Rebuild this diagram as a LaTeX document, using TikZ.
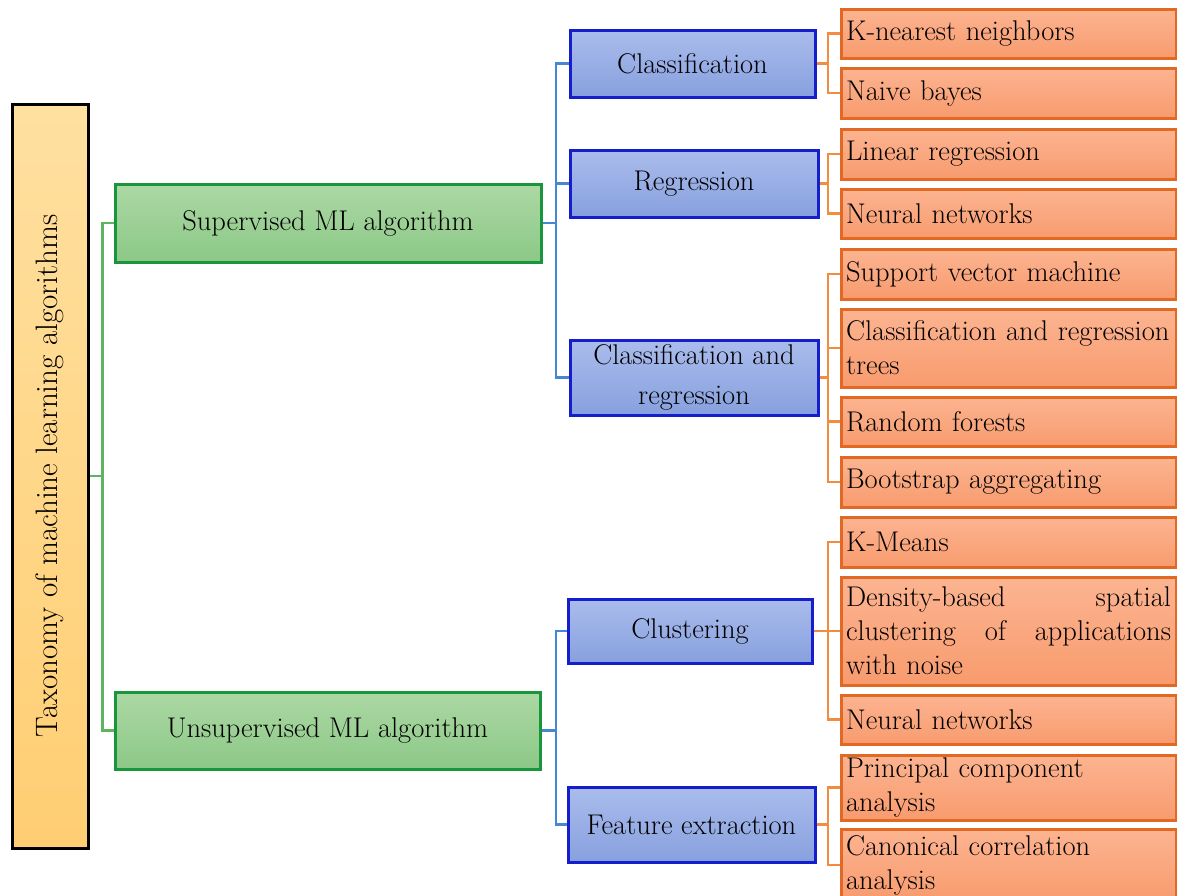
\documentclass[tikz,border=0pt]{standalone}
\usepackage{tikz}
\usetikzlibrary{positioning}
\usepackage{xcolor}
\definecolor{rootT}{RGB}{255,224,160}
\definecolor{rootB}{RGB}{255,206,115}
\definecolor{grT}{RGB}{172,216,164}
\definecolor{grB}{RGB}{140,200,135}
\definecolor{grD}{RGB}{25,150,60}
\definecolor{grL}{RGB}{95,180,95}
\definecolor{blT}{RGB}{170,188,236}
\definecolor{blB}{RGB}{135,160,222}
\definecolor{blD}{RGB}{20,30,205}
\definecolor{blL}{RGB}{70,135,210}
\definecolor{orT}{RGB}{252,180,145}
\definecolor{orB}{RGB}{248,155,110}
\definecolor{orD}{RGB}{225,105,35}
\definecolor{orL}{RGB}{242,140,65}

\begin{document}
\begin{tikzpicture}[x=1pt,y=-1pt,
        every node/.style={font=\fontsize{28.5}{34}\selectfont, inner sep=0pt},
        rootbox/.style={draw=black, line width=3pt, top color=rootT, bottom color=rootB,
                minimum width=76pt, minimum height=744pt},
        mainbox/.style={draw=grD, line width=3pt, top color=grT, bottom color=grB,
                minimum height=78pt},
        catbox/.style={draw=blD, line width=3pt, top color=blT, bottom color=blB,
                align=center, font=\fontsize{28.5}{40}\selectfont},
        leafbox/.style={draw=orD, line width=3pt, top color=orT, bottom color=orB,
                inner xsep=5pt, text width=325pt, align=left},
        gline/.style={draw=grL, line width=2.2pt},
        bline/.style={draw=blL, line width=2.2pt},
        oline/.style={draw=orL, line width=2.2pt}]
        \useasboundingbox (0,0) rectangle (1177,895);

        % root
        \node [rootbox] (root) at (50,476) {};
        \node [rotate=90, font=\fontsize{31}{36}\selectfont] (roottext) at (root.center) {Taxonomy of machine learning algorithms};

        % main groups
        \node [mainbox, minimum width=426pt] (sup) at (328,223) {Supervised ML algorithm};
        \node [mainbox, minimum width=425pt, minimum height=77pt] (unsup) at (327.5,730.5) {Unsupervised ML algorithm};

        % categories
        \node [catbox, minimum width=245pt, minimum height=67pt] (cls) at (692.5,63.5) {Classification};
        \node [catbox, minimum width=248pt, minimum height=67pt] (reg) at (694,183.5) {Regression};
        \node [catbox, minimum width=248pt, minimum height=75pt] (clsreg) at (694,377.5) {Classification and\\regression};
        \node [catbox, minimum width=244pt, minimum height=64pt] (clu) at (690,631) {Clustering};
        \node [catbox, minimum width=247pt, minimum height=75pt] (feat) at (691.5,824.5) {Feature extraction};

        % algorithms
        \node [leafbox, minimum height=49pt] (knn) at (1008.5,33.5) {K-nearest neighbors};
        \node [leafbox, minimum height=50pt] (nb) at (1008.5,93) {Naive bayes};
        \node [leafbox, minimum height=50pt] (lr) at (1008.5,154) {Linear regression};
        \node [leafbox, minimum height=49pt] (nn1) at (1008.5,213.5) {Neural networks};
        \node [leafbox, minimum height=50pt] (svm) at (1008.5,274) {Support vector machine};
        \node [leafbox, minimum height=78pt] (cart) at (1008.5,348) {Classification and regression\\trees};
        \node [leafbox, minimum height=49pt] (rf) at (1008.5,421.5) {Random forests};
        \node [leafbox, minimum height=50pt] (bag) at (1008.5,482) {Bootstrap aggregating};
        \node [leafbox, minimum height=50pt] (km) at (1008.5,542) {K-Means};
        \node [leafbox, minimum height=108pt] (dbs) at (1008.5,631) {Density-based\hfill spatial\\clustering\hfill of\hfill applications\\with noise};
        \node [leafbox, minimum height=49pt] (nn2) at (1008.5,719.5) {Neural networks};
        \node [leafbox, minimum height=65pt] (pca) at (1008.5,787.5) {Principal component\\analysis};
        \node [leafbox, minimum height=72pt] (cca) at (1008.5,865) {Canonical correlation\\analysis};

        % trunks
        \coordinate (bt) at (556,0);
        \coordinate (ot) at (828,0);

        % connectors
        \draw [gline] (root.east) -- ++(13,0) |- (sup.west);
        \draw [gline] (root.east) -- ++(13,0) |- (unsup.west);

        \draw [bline] (sup.east) -- (sup.east -| bt) |- (cls.west);
        \draw [bline] (sup.east) -- (sup.east -| bt) |- (reg.west);
        \draw [bline] (sup.east) -- (sup.east -| bt) |- (clsreg.west);
        \draw [bline] (unsup.east) -- (unsup.east -| bt) |- (clu.west);
        \draw [bline] (unsup.east) -- (unsup.east -| bt) |- (feat.west);

        \draw [oline] (cls.east) -- (cls.east -| ot) |- (knn.west);
        \draw [oline] (cls.east) -- (cls.east -| ot) |- (nb.west);
        \draw [oline] (reg.east) -- (reg.east -| ot) |- (lr.west);
        \draw [oline] (reg.east) -- (reg.east -| ot) |- (nn1.west);
        \draw [oline] (clsreg.east) -- (clsreg.east -| ot) |- (svm.west);
        \draw [oline] (clsreg.east) -- (clsreg.east -| ot) |- (cart.west);
        \draw [oline] (clsreg.east) -- (clsreg.east -| ot) |- (rf.west);
        \draw [oline] (clsreg.east) -- (clsreg.east -| ot) |- (bag.west);
        \draw [oline] (clu.east) -- (clu.east -| ot) |- (km.west);
        \draw [oline] (clu.east) -- (clu.east -| ot) |- (dbs.west);
        \draw [oline] (clu.east) -- (clu.east -| ot) |- (nn2.west);
        \draw [oline] (feat.east) -- (feat.east -| ot) |- (pca.west);
        \draw [oline] (feat.east) -- (feat.east -| ot) |- (cca.west);
\end{tikzpicture}
\end{document}
